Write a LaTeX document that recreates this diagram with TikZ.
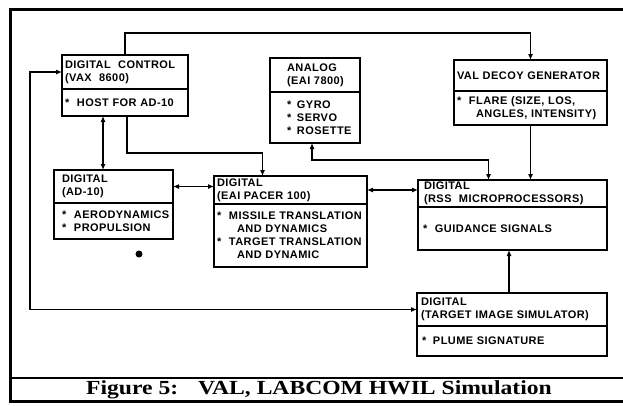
\documentclass[tikz,border=0pt]{standalone}
\usepackage{fontspec}
\setsansfont{Liberation Sans}[LetterSpace=4]
\newfontfamily\capfont{Liberation Serif}[FakeStretch=1.18]
\usepackage{tikz}
\usetikzlibrary{arrows.meta, positioning}
\tikzstyle{head} = [rectangle, draw=black, line width=1.3pt, outer sep=0pt, inner xsep=3pt, inner ysep=2pt, align=left, anchor=north west]
\tikzstyle{body} = [head, anchor=north]
\tikzstyle{arrow} = [line width=1.1pt,->,>={Latex[length=6pt,width=5pt]}]
\tikzstyle{biarrow} = [line width=1.1pt,<->,>={Latex[length=6pt,width=5pt]}]
\newcommand{\itm}{\makebox[12pt][l]{*}}

\begin{document}
\begin{tikzpicture}[x=1pt, y=-1pt, font=\sffamily\bfseries\fontsize{11}{13}\selectfont]
\useasboundingbox (0,0) rectangle (623,405);
% frame and caption band
\draw [line width=3pt] (623,9) -- (10,9) -- (10,401) -- (623,401);
\draw [line width=1.5pt] (10,378) -- (623,378);
\coordinate (loop) at (30,0);

\node (dcH) [head, text width=120pt, minimum height=34pt] at (62,55) {DIGITAL~ CONTROL\\(VAX~ 8600)};
\node (dcB) [body, below=0pt of dcH, text width=120pt, minimum height=27pt] {\itm HOST~FOR~AD-10};
\node (adH) [head, below=54pt of dcB.south west, anchor=north west, xshift=-8pt, text width=113pt, minimum height=33pt] {\hspace*{5pt}DIGITAL\\\hspace*{5pt}(AD-10)};
\node (adB) [body, below=0pt of adH, text width=113pt, minimum height=36pt] {\hspace*{5pt}\itm AERODYNAMICS\\\hspace*{5pt}\itm PROPULSION};
\node (paH) [head, right=41pt of adH.north east, anchor=north west, yshift=-6pt, text width=147pt, minimum height=28pt] {DIGITAL\\(EAI~PACER~100)};
\node (paB) [body, below=0pt of paH, text width=147pt, minimum height=63pt] {\itm MISSILE~TRANSLATION\\\hspace*{20pt}AND~DYNAMICS\\\itm TARGET~TRANSLATION\\\hspace*{20pt}AND~DYNAMIC};
\node (anH) [head, text width=84pt, minimum height=34pt] at (270,58) {\hspace*{14pt}ANALOG\\\hspace*{14pt}(EAI~7800)};
\node (anB) [body, below=0pt of anH, text width=84pt, minimum height=51pt] {\hspace*{14pt}\makebox[10pt][l]{*}GYRO\\\hspace*{14pt}\makebox[10pt][l]{*}SERVO\\\hspace*{14pt}\makebox[10pt][l]{*}ROSETTE};
\node (valH) [head, text width=147pt, minimum height=31pt] at (454,60) {VAL~DECOY~GENERATOR};
\node (valB) [body, below=0pt of valH, text width=147pt, minimum height=34pt] {\itm FLARE~(SIZE,~LOS,\\\hspace*{19pt}ANGLES,~INTENSITY)};
\node (rsH) [head, right=51pt of paH.north east, anchor=north west, yshift=-4pt, text width=183pt, minimum height=27pt] {\hspace*{3pt}DIGITAL\\\hspace*{3pt}(RSS~~MICROPROCESSORS)};
\node (rsB) [body, below=0pt of rsH, text width=183pt, minimum height=43pt] {\hspace*{2pt}\itm GUIDANCE~SIGNALS\\[4pt]};
\node (tisH) [head, below=43pt of rsB.south west, anchor=north west, xshift=-1pt, text width=184pt, minimum height=33pt] {\hspace*{1pt}DIGITAL\\\hspace*{1pt}(TARGET~IMAGE~SIMULATOR)};
\node (tisB) [body, below=0pt of tisH, text width=184pt, minimum height=30pt] {\hspace*{2pt}\makebox[11pt][l]{*}PLUME~SIGNATURE};
\node (dot) [circle, fill=black, inner sep=0pt, minimum size=7pt] at (139,254) {};

\node (cap) [anchor=base, font=\capfont\bfseries\fontsize{20}{22}\selectfont] at (319,394) {Figure 5:\hspace{20pt}VAL, LABCOM HWIL Simulation};

\draw [arrow] (dcH.north) -- ++(0,-22) -| (valH.north);
\draw [biarrow] (dcH.west) -- (dcH.west -| loop) |- (tisH.west);
\draw [biarrow] ([xshift=-22pt]dcB.south) -- ([xshift=-22pt]dcB.south |- adH.north);
\draw [arrow] ([xshift=2pt]dcB.south) -- ++(0,37) -| ([xshift=-28pt]paH.north);
\draw [biarrow] (adH.east) -- (adH.east -| paH.west);
\draw [biarrow] (paH.east) -- (paH.east -| rsH.west);
\draw [biarrow] ([xshift=-3pt]anB.south) -- ++(0,17) -| ([xshift=-24pt]rsH.north);
\draw [arrow] (valB.south) -- (valB.south |- rsH.north);
\draw [arrow] ([xshift=-3pt]tisH.north) -- ([xshift=-3pt]tisH.north |- rsB.south);
\end{tikzpicture}
\end{document}
